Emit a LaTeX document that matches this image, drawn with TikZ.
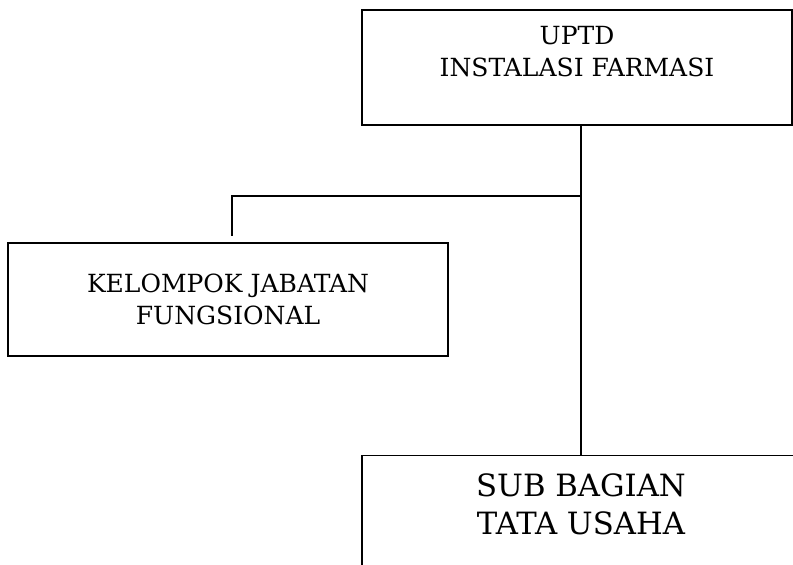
\documentclass[tikz,border=0pt]{standalone}
\usepackage{fontspec}
\setmainfont{DejaVu Serif}
\usepackage{tikz}
\usetikzlibrary{positioning}

\begin{document}
\begin{tikzpicture}[
  x=1pt,y=1pt,
  node distance=329pt,
  orgbox/.style={draw,line width=1.3pt,align=center,inner sep=0pt,
                 font=\fontsize{25}{32}\selectfont},
  link/.style={line width=1.2pt},
]
\clip (0,0) rectangle (793,565);
\node[orgbox,minimum width=430pt,minimum height=115pt] (uptd) at (577,497.5)
  {UPTD\\INSTALASI FARMASI\\~};
\node[orgbox,minimum width=440pt,minimum height=113pt] (fung) at (228,265.5)
  {KELOMPOK JABATAN\\FUNGSIONAL};
\node[orgbox,minimum width=438pt,minimum height=136pt,line width=1.8pt,
      font=\fontsize{30.7}{38}\selectfont,below=of uptd.south,xshift=4pt,anchor=north] (sub)
  {SUB BAGIAN\\TATA USAHA\\~};
% garis komando
\coordinate (split) at (581,369);
\coordinate (stub) at ([xshift=4pt,yshift=6pt]fung.north);
\draw[link] (uptd.south -| sub.north) -- (sub.north);
\draw[link] (split) -| (stub);
\end{tikzpicture}
\end{document}
